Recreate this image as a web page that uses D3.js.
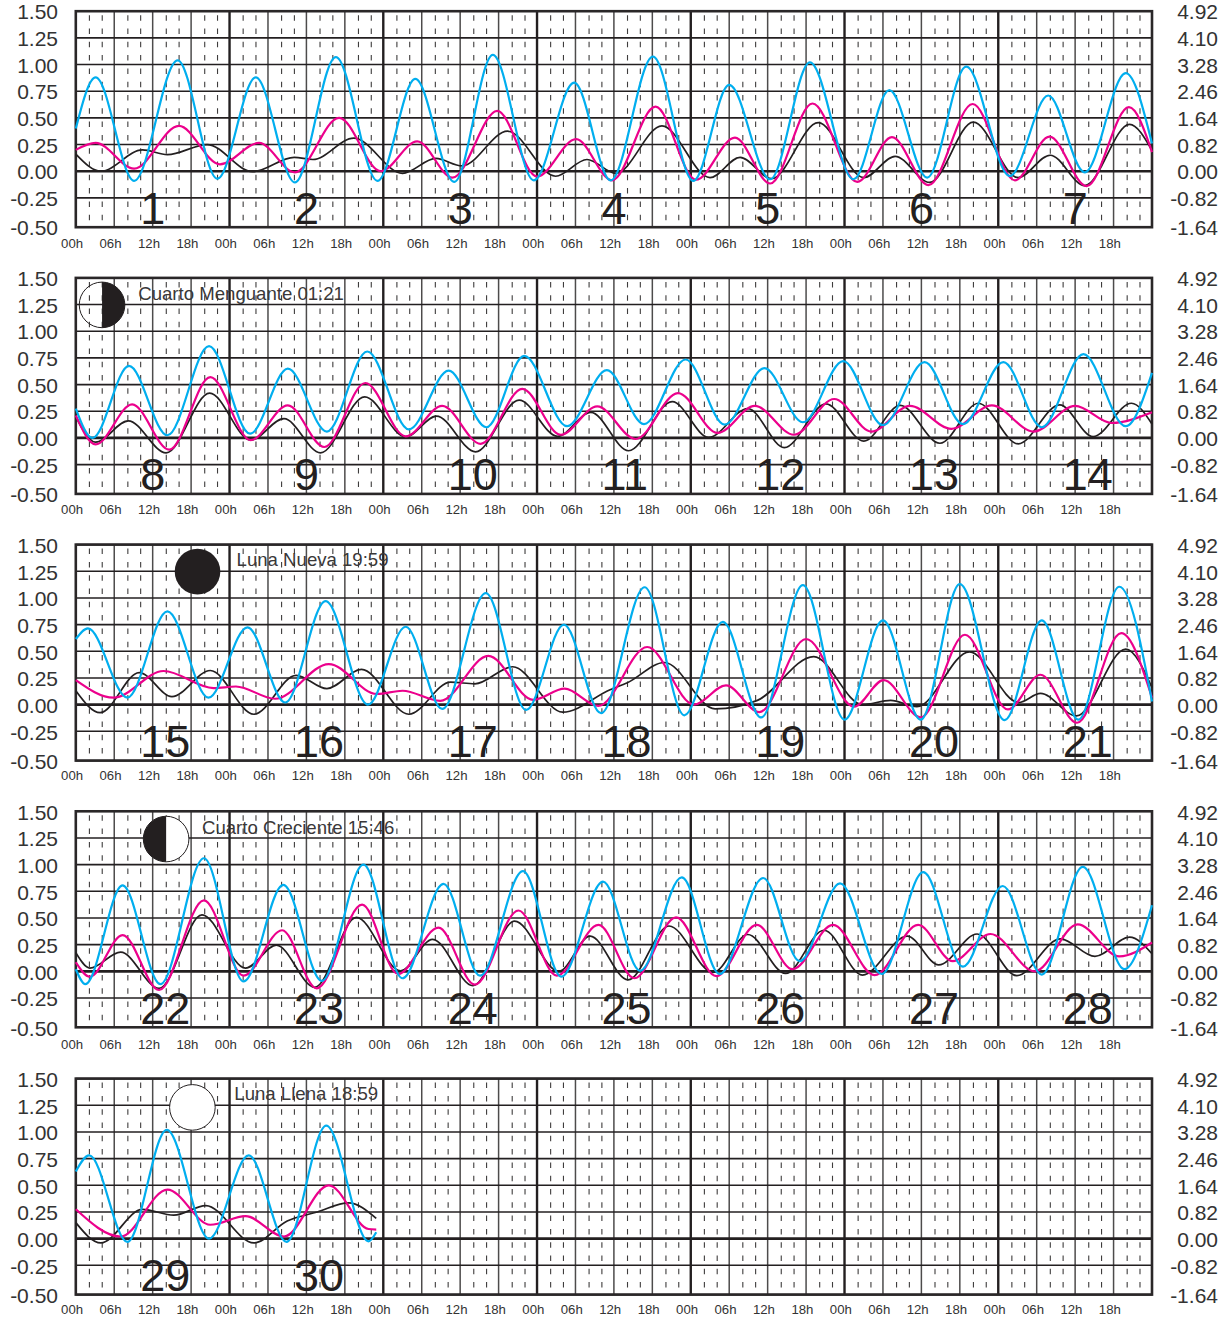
<!DOCTYPE html>
<html>
<head>
<meta charset="utf-8">
<script src="https://cdn.jsdelivr.net/npm/d3@7/dist/d3.min.js"></script>
<style>
html,body{margin:0;padding:0;background:#fff}
svg{display:block}
text{font-family:"Liberation Sans",Arial,sans-serif;fill:#231f20}
</style>
</head>
<body>
<script>
// Left / right axis labels
const yTicks = [-0.5,-0.25,0,0.25,0.5,0.75,1,1.25,1.5];
const yLabels = ["-0.50","-0.25","0.00","0.25","0.50","0.75","1.00","1.25","1.50"];
const rightLabels = ["-1.64","-0.82","0.00","0.82","1.64","2.46","3.28","4.10","4.92"];
const hourLabels = ["00h","06h","12h","18h"];

// Turning points of each curve, [hour in the week, level]
const blue1 = [[0,.40],[3.1,.88],[9.1,-.09],[15.9,1.04],[22.1,-.07],[28.1,.88],[34.2,-.105],[40.6,1.07],[47.1,-.09],[53,.865],[59.1,-.10],[65.1,1.09],[71.5,-.085],[77.8,.83],[83.5,-.085],[90.1,1.075],[96.4,-.09],[102,.81],[108.4,-.075],[114.6,1.02],[121.4,-.075],[127,.76],[132.9,-.06],[139,.98],[145.8,-.045],[151.8,.71],[157.5,-.01],[163.9,.92],[168,.26]];
const pink1 = [[0,.20],[3.1,.265],[9.1,.025],[16.1,.425],[22.5,.065],[28.6,.265],[34.2,-.01],[41.1,.50],[47.6,0],[53.3,.28],[58.8,-.06],[65.8,.565],[72,-.05],[78.1,.30],[83.7,-.085],[90.5,.605],[96.8,-.08],[102.9,.315],[108.4,-.115],[115,.635],[122,-.10],[127.4,.32],[133.1,-.13],[140,.63],[146.6,-.085],[152,.325],[157.8,-.14],[164.4,.60],[168,.18]];
const black1 = [[0,.16],[3.9,0],[10.4,.20],[14.3,.155],[20.5,.25],[27.6,-.005],[34.1,.13],[37,.11],[43.4,.31],[51,-.02],[56.2,.12],[60.3,.05],[67.4,.375],[74.9,-.047],[79.8,.11],[84.3,-.02],[91.5,.425],[99,-.06],[103.7,.13],[108.6,-.07],[115.9,.455],[123,-.06],[127.9,.14],[133.3,-.105],[140.1,.46],[147.1,-.06],[152.1,.15],[157.5,-.135],[164.5,.44],[168,.195]];

const blue2 = [[0,.275],[2.6,0],[8.3,.675],[14.3,.025],[20.8,.86],[27.2,.04],[33.1,.65],[39.2,.06],[45.5,.81],[52,.08],[58.2,.63],[64.1,.10],[70,.77],[76.7,.11],[82.9,.635],[88.7,.13],[95.2,.735],[101.3,.125],[107.5,.655],[113.5,.147],[119.8,.72],[126,.12],[132.5,.71],[138.5,.13],[144.8,.71],[150.8,.10],[157.3,.785],[163.9,.11],[168,.61]];
const pink2 = [[0,.21],[3.1,-.06],[8.8,.315],[14.6,-.11],[21,.57],[27.3,-.02],[33.1,.305],[38.8,-.085],[45.2,.515],[51.5,.015],[57.2,.30],[63.2,-.055],[69.7,.46],[75.7,.03],[81.4,.295],[87.4,-.01],[94,.42],[100.2,.047],[106,.30],[112.1,.03],[118.4,.365],[124.2,.06],[130.2,.30],[136.7,.085],[143,.305],[149.5,.06],[156,.30],[161.7,.14],[168,.24]];
const black2 = [[0,.20],[3.1,-.04],[8.2,.16],[14.1,-.14],[20.9,.42],[27.3,-.02],[32.5,.18],[38.2,-.14],[45.1,.385],[51.5,.01],[56.3,.205],[62.4,-.13],[69.2,.355],[75.2,.015],[80.4,.24],[86.3,-.12],[93.1,.34],[98.8,.005],[104.9,.275],[110.6,-.09],[117.1,.32],[123,-.03],[128.7,.305],[134.9,-.05],[140.9,.325],[147.1,-.055],[153.6,.31],[158.8,.012],[164.8,.325],[168,.13]];

const blue3 = [[0,.615],[1.9,.715],[8.05,.065],[14.3,.875],[20.7,.065],[26.8,.725],[32.7,.02],[39,.97],[45.6,0],[51.5,.73],[57.2,-.04],[64,1.045],[70.3,-.05],[76.2,.75],[82,-.08],[88.8,1.10],[95,-.10],[101,.775],[107,-.12],[113.5,1.12],[120,-.14],[126,.79],[131.9,-.14],[138,1.13],[145,-.145],[150.8,.79],[156.5,-.14],[162.9,1.105],[168,.03]];
const pink3 = [[0,.23],[5.9,.065],[13.7,.315],[21.5,.155],[25,.17],[31.1,.055],[39.5,.38],[47,.10],[51,.13],[56.9,.035],[64.4,.457],[71.4,.045],[76.3,.15],[81.6,-.012],[89.2,.54],[96.5,0],[101.5,.18],[106.7,-.07],[114,.615],[121.5,-.02],[126.1,.23],[131.9,-.12],[138.8,.655],[145.5,-.045],[150.6,.28],[156.3,-.17],[163.2,.67],[168,.065]];
const black3 = [[0,.13],[3.8,-.075],[9.9,.30],[15,.075],[21,.32],[27.8,-.09],[34.4,.275],[39.2,.15],[44.6,.33],[52,-.09],[58.5,.21],[62.3,.195],[68.2,.355],[76,-.07],[83.4,.14],[86.1,.205],[91.9,.395],[99.8,-.04],[106.4,.04],[115.2,.45],[122.8,0],[127.2,.04],[131.3,-.02],[139.5,.495],[147.2,.02],[150.6,.105],[156.2,-.105],[163.9,.52],[168,.16]];

const blue4 = [[0,.02],[1.5,-.12],[7.3,.805],[13.2,-.12],[20,1.06],[26.2,-.095],[32.4,.81],[38.4,-.09],[44.9,1.0],[51,-.065],[57.4,.82],[63.1,-.04],[69.8,.94],[75.8,-.05],[82.3,.84],[88.1,.005],[94.6,.88],[100.5,-.025],[107.3,.875],[113,.095],[119.3,.825],[125.8,-.025],[132.3,.93],[138.5,.045],[144.7,.80],[150.8,-.03],[157.2,.98],[163.7,.02],[168,.62]];
const pink4 = [[0,.085],[2.2,-.05],[7.3,.34],[13,-.175],[20,.665],[26.2,-.04],[32.2,.385],[37.6,-.16],[44.7,.625],[50.3,-.025],[56.6,.41],[62.3,-.125],[69.1,.57],[75.1,-.04],[81.6,.435],[87.2,-.065],[93.7,.505],[100,-.045],[106.3,.435],[111.9,.02],[118.2,.435],[124.7,-.035],[131.5,.435],[136.9,.095],[142.8,.35],[149.7,0],[156.4,.44],[162.9,.14],[168,.27]];
const black4 = [[0,.175],[2.2,.03],[7,.18],[13,-.16],[19.7,.53],[26.5,.03],[31.3,.245],[37.3,-.15],[43.8,.505],[50.7,.005],[55.7,.30],[62,-.135],[68.5,.47],[75.4,0],[80.3,.33],[86.2,-.08],[92.6,.425],[99.5,-.01],[104.9,.345],[110.8,-.02],[116.8,.385],[122.8,-.035],[129.8,.33],[134.7,.06],[140.7,.35],[146.9,-.04],[153.7,.305],[159.1,.14],[164.5,.32],[168,.165]];

const blue5 = [[0,.63],[2.1,.78],[8.05,-.03],[14.2,1.02],[20.8,0],[27,.78],[32.9,-.03],[39.1,1.06],[45.7,-.025],[46.9,.06]];
const pink5 = [[0,.275],[7,.02],[14.3,.46],[21,.13],[26.5,.21],[32.5,.02],[39.5,.50],[45.7,.09],[46.9,.085]];
const black5 = [[0,.15],[3.9,-.04],[10.4,.275],[15.3,.22],[20.3,.31],[27.8,-.04],[33,.165],[37.7,.25],[42.6,.335],[46.9,.19]];

const blueSeries = [blue1,blue2,blue3,blue4,blue5];
const pinkSeries = [pink1,pink2,pink3,pink4,pink5];
const blackSeries = [black1,black2,black3,black4,black5];

// Day numbers per week
const weekDays = [[1,2,3,4,5,6,7],[8,9,10,11,12,13,14],[15,16,17,18,19,20,21],[22,23,24,25,26,27,28],[29,30]];
// Moon phases: week, hour, level, phase, caption
const moonWeeks = [1,2,3,4];
const moonHours = [4.1,19.0,14.1,18.2];
const moonLevels = [1.247,1.247,1.24,1.23];
const moonPhases = ["last","new","first","full"];
const moonCaptions = ["Cuarto Menguante 01:21","Luna Nueva 19:59","Cuarto Creciente 15:46","Luna Llena 18:59"];
const captionHours = [9.75,25.1,19.7,24.75];
const captionLevels = [1.295,1.30,1.29,1.295];

const W = 1229, H = 1317;
const panelTop = [11.2,277.9,544.6,811.3,1078.6];
const xLabelShift = [2,2,1.2,3,1.2];
const panelH = 216;
const svg = d3.select("body").append("svg").attr("width",W).attr("height",H);

const x = d3.scaleLinear().domain([0,168]).range([75.8,1152]);
const y = d3.scaleLinear().domain([-0.5,-0.25,1.5]).range([panelH,186.7,0]);
const lineGen = d3.line().x(d=>x(d[0])).y(d=>y(d[1])).curve(d3.curveMonotoneX);

const dark = "#231f20";
const sans = '"Liberation Sans",Arial,sans-serif';
panelTop.forEach((top,i)=>{
  const g = svg.append("g").attr("transform",`translate(0,${top})`);

  // dashed 2h guides
  const dashHours = d3.range(0,168,2).filter(h=>h%6!==0);
  g.append("g").selectAll("line").data(dashHours).join("line")
    .attr("x1",d=>x(d)+0.8).attr("x2",d=>x(d)+0.8)
    .attr("y1",4).attr("y2",panelH)
    .attr("stroke","#3f3d3d").attr("stroke-width",1.1)
    .attr("stroke-dasharray","5.5 7.8");

  // 6h verticals
  const sixHours = d3.range(6,168,6).filter(h=>h%24!==0);
  g.append("g").selectAll("line").data(sixHours).join("line")
    .attr("x1",d=>x(d)).attr("x2",d=>x(d)).attr("y1",0).attr("y2",panelH)
    .attr("stroke","#4d4b4b").attr("stroke-width",1.5);

  // horizontals
  g.append("g").selectAll("line").data(yTicks).join("line")
    .attr("x1",x(0)).attr("x2",x(168))
    .attr("y1",d=>y(d)).attr("y2",d=>y(d))
    .attr("stroke",dark)
    .attr("stroke-width",d=>d===0?2.7:1.6);

  // day lines
  g.append("g").selectAll("line").data(d3.range(24,168,24)).join("line")
    .attr("x1",d=>x(d)).attr("x2",d=>x(d)).attr("y1",0).attr("y2",panelH)
    .attr("stroke",dark).attr("stroke-width",2.4);

  // frame
  g.append("rect").attr("x",x(0)).attr("y",y(1.5)).attr("width",x(168)-x(0)).attr("height",panelH)
    .attr("fill","none").attr("stroke","#2a2728").attr("stroke-width",2.6);

  // day numbers
  g.append("g").selectAll("text").data(weekDays[i]).join("text")
    .attr("x",(d,k)=>x(24*k+12)-12.5)
    .attr("y",panelH-3.5)
    .attr("font-size",45)
    .text(d=>d);

  // moon
  const mi = moonWeeks.indexOf(i);
  if(mi>=0){
    const cx = x(moonHours[mi]), cy = y(moonLevels[mi]), r = 22.8;
    const phase = moonPhases[mi];
    const half = (sign)=>`M${cx},${cy-r}A${r},${r} 0 0 ${sign} ${cx},${cy+r}Z`;
    if(phase==="new"){
      g.append("circle").attr("cx",cx).attr("cy",cy).attr("r",r).attr("fill",dark);
    } else if(phase==="full"){
      g.append("circle").attr("cx",cx).attr("cy",cy).attr("r",r).attr("fill","#fff").attr("stroke",dark).attr("stroke-width",1);
    } else if(phase==="last"){
      g.append("circle").attr("cx",cx).attr("cy",cy).attr("r",r).attr("fill","none").attr("stroke",dark).attr("stroke-width",1);
      g.append("path").attr("d",half(1)).attr("fill",dark);
    } else {
      g.append("circle").attr("cx",cx).attr("cy",cy).attr("r",r).attr("fill","#fff").attr("stroke",dark).attr("stroke-width",1);
      g.append("path").attr("d",half(0)).attr("fill",dark);
    }
    g.append("text").attr("x",x(captionHours[mi])).attr("y",y(captionLevels[mi]))
      .attr("font-size",18.6).style("fill","#3a3839").text(moonCaptions[mi]);
  }

  // curves
  [[blackSeries,dark,1.7],[pinkSeries,"#ec008c",2.2],[blueSeries,"#00aeef",2.2]].forEach(([series,color,w])=>{
    g.append("path").datum(series[i]).attr("d",lineGen)
      .attr("fill","none").attr("stroke",color).attr("stroke-width",w).attr("stroke-linejoin","round");
  });

  // axes
  const leftAxis = d3.axisLeft(y).tickValues(yTicks).tickSize(0).tickPadding(0)
    .tickFormat(d=>yLabels[yTicks.indexOf(d)]);
  const gl = g.append("g").attr("transform","translate(58,1)").call(leftAxis);
  gl.select(".domain").remove();
  gl.selectAll("text").attr("font-size",21).style("font-family",sans).style("fill","#333");

  const rightAxis = d3.axisLeft(y).tickValues(yTicks).tickSize(0).tickPadding(0)
    .tickFormat(d=>rightLabels[yTicks.indexOf(d)]);
  const gr = g.append("g").attr("transform","translate(1218,1)").call(rightAxis);
  gr.select(".domain").remove();
  gr.selectAll("text").attr("font-size",21).style("font-family",sans).style("fill","#333");

  const xAxis = d3.axisBottom(x).tickValues(d3.range(0,168,6)).tickSize(0).tickPadding(0)
    .tickFormat(d=>hourLabels[(d%24)/6]);
  const gx = g.append("g").attr("transform",`translate(-4.2,${panelH+9+xLabelShift[i]})`).call(xAxis);
  gx.select(".domain").remove();
  gx.selectAll("text").attr("font-size",13.2).style("font-family",sans).style("fill","#333");
});
</script>
</body>
</html>
